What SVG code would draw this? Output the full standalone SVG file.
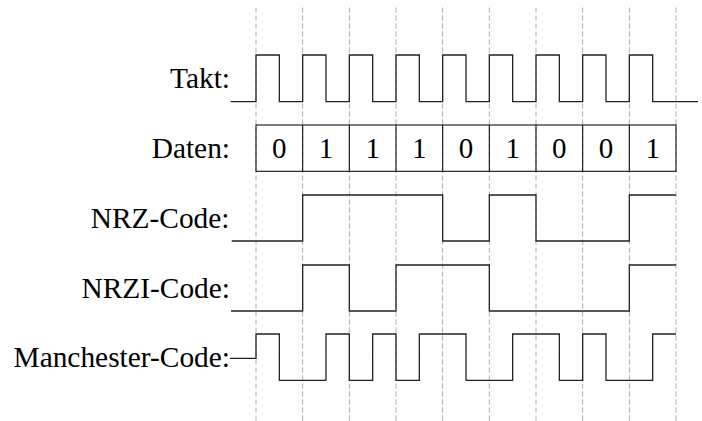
<svg xmlns="http://www.w3.org/2000/svg" width="702" height="421" viewBox="0 0 702 421">
<style>
.lbl{font-family:"Liberation Serif","Times New Roman",serif;font-size:29.4px;fill:#000;text-anchor:end}
.dig{font-family:"Liberation Serif","Times New Roman",serif;font-size:29px;fill:#000;text-anchor:middle}
.grid{stroke:#b0b0b0;stroke-width:1;stroke-dasharray:5.33 2.67;fill:none}
.sig{stroke:#222;stroke-width:1.3;fill:none;stroke-linejoin:miter}
.box{stroke:#111;stroke-width:1.1;fill:none}
</style>
<rect width="702" height="421" fill="#fff"/>
<g id="grid">
<path class="grid" d="M256 7.5V421M302.67 7.5V421M349.33 7.5V421M396 7.5V421M442.67 7.5V421M489.33 7.5V421M536 7.5V421M582.67 7.5V421M629.33 7.5V421M676 7.5V421"/>
</g>
<g id="takt">
<text class="lbl" x="230" y="88.3">Takt:</text>
<path class="sig" d="M230.7 101.7H256V55H279.33V101.7H302.67V55H326V101.7H349.33V55H372.67V101.7H396V55H419.33V101.7H442.67V55H466V101.7H489.33V55H512.67V101.7H536V55H559.33V101.7H582.67V55H606V101.7H629.33V55H652.67V101.7H698"/>
</g>
<g id="daten">
<text class="lbl" x="230" y="158.3">Daten:</text>
<rect class="box" x="256" y="125" width="420" height="46.3"/>
<path class="box" d="M302.67 125V171.3M349.33 125V171.3M396 125V171.3M442.67 125V171.3M489.33 125V171.3M536 125V171.3M582.67 125V171.3M629.33 125V171.3"/>
<text class="dig" x="279.33" y="158">0</text>
<text class="dig" x="326" y="158">1</text>
<text class="dig" x="372.67" y="158">1</text>
<text class="dig" x="419.33" y="158">1</text>
<text class="dig" x="466" y="158">0</text>
<text class="dig" x="512.67" y="158">1</text>
<text class="dig" x="559.33" y="158">0</text>
<text class="dig" x="606" y="158">0</text>
<text class="dig" x="652.67" y="158">1</text>
</g>
<g id="nrz">
<text class="lbl" x="229.5" y="228.3">NRZ-Code:</text>
<path class="sig" d="M231.7 241H302.67V195H442.67V241H489.33V195H536V241H629.33V195H676"/>
</g>
<g id="nrzi">
<text class="lbl" x="230" y="298.3">NRZI-Code:</text>
<path class="sig" d="M231 311H302.67V265H349.33V311H396V265H489.33V311H629.33V265H676"/>
</g>
<g id="manchester">
<text class="lbl" x="230" y="366.7">Manchester-Code:</text>
<path class="sig" d="M230 358.3H256V334H279.33V380.3H326V334H349.33V380.3H372.67V334H396V380.3H419.33V334H466V380.3H512.67V334H559.33V380.3H582.67V334H606V380.3H652.67V334H676"/>
</g>
</svg>
